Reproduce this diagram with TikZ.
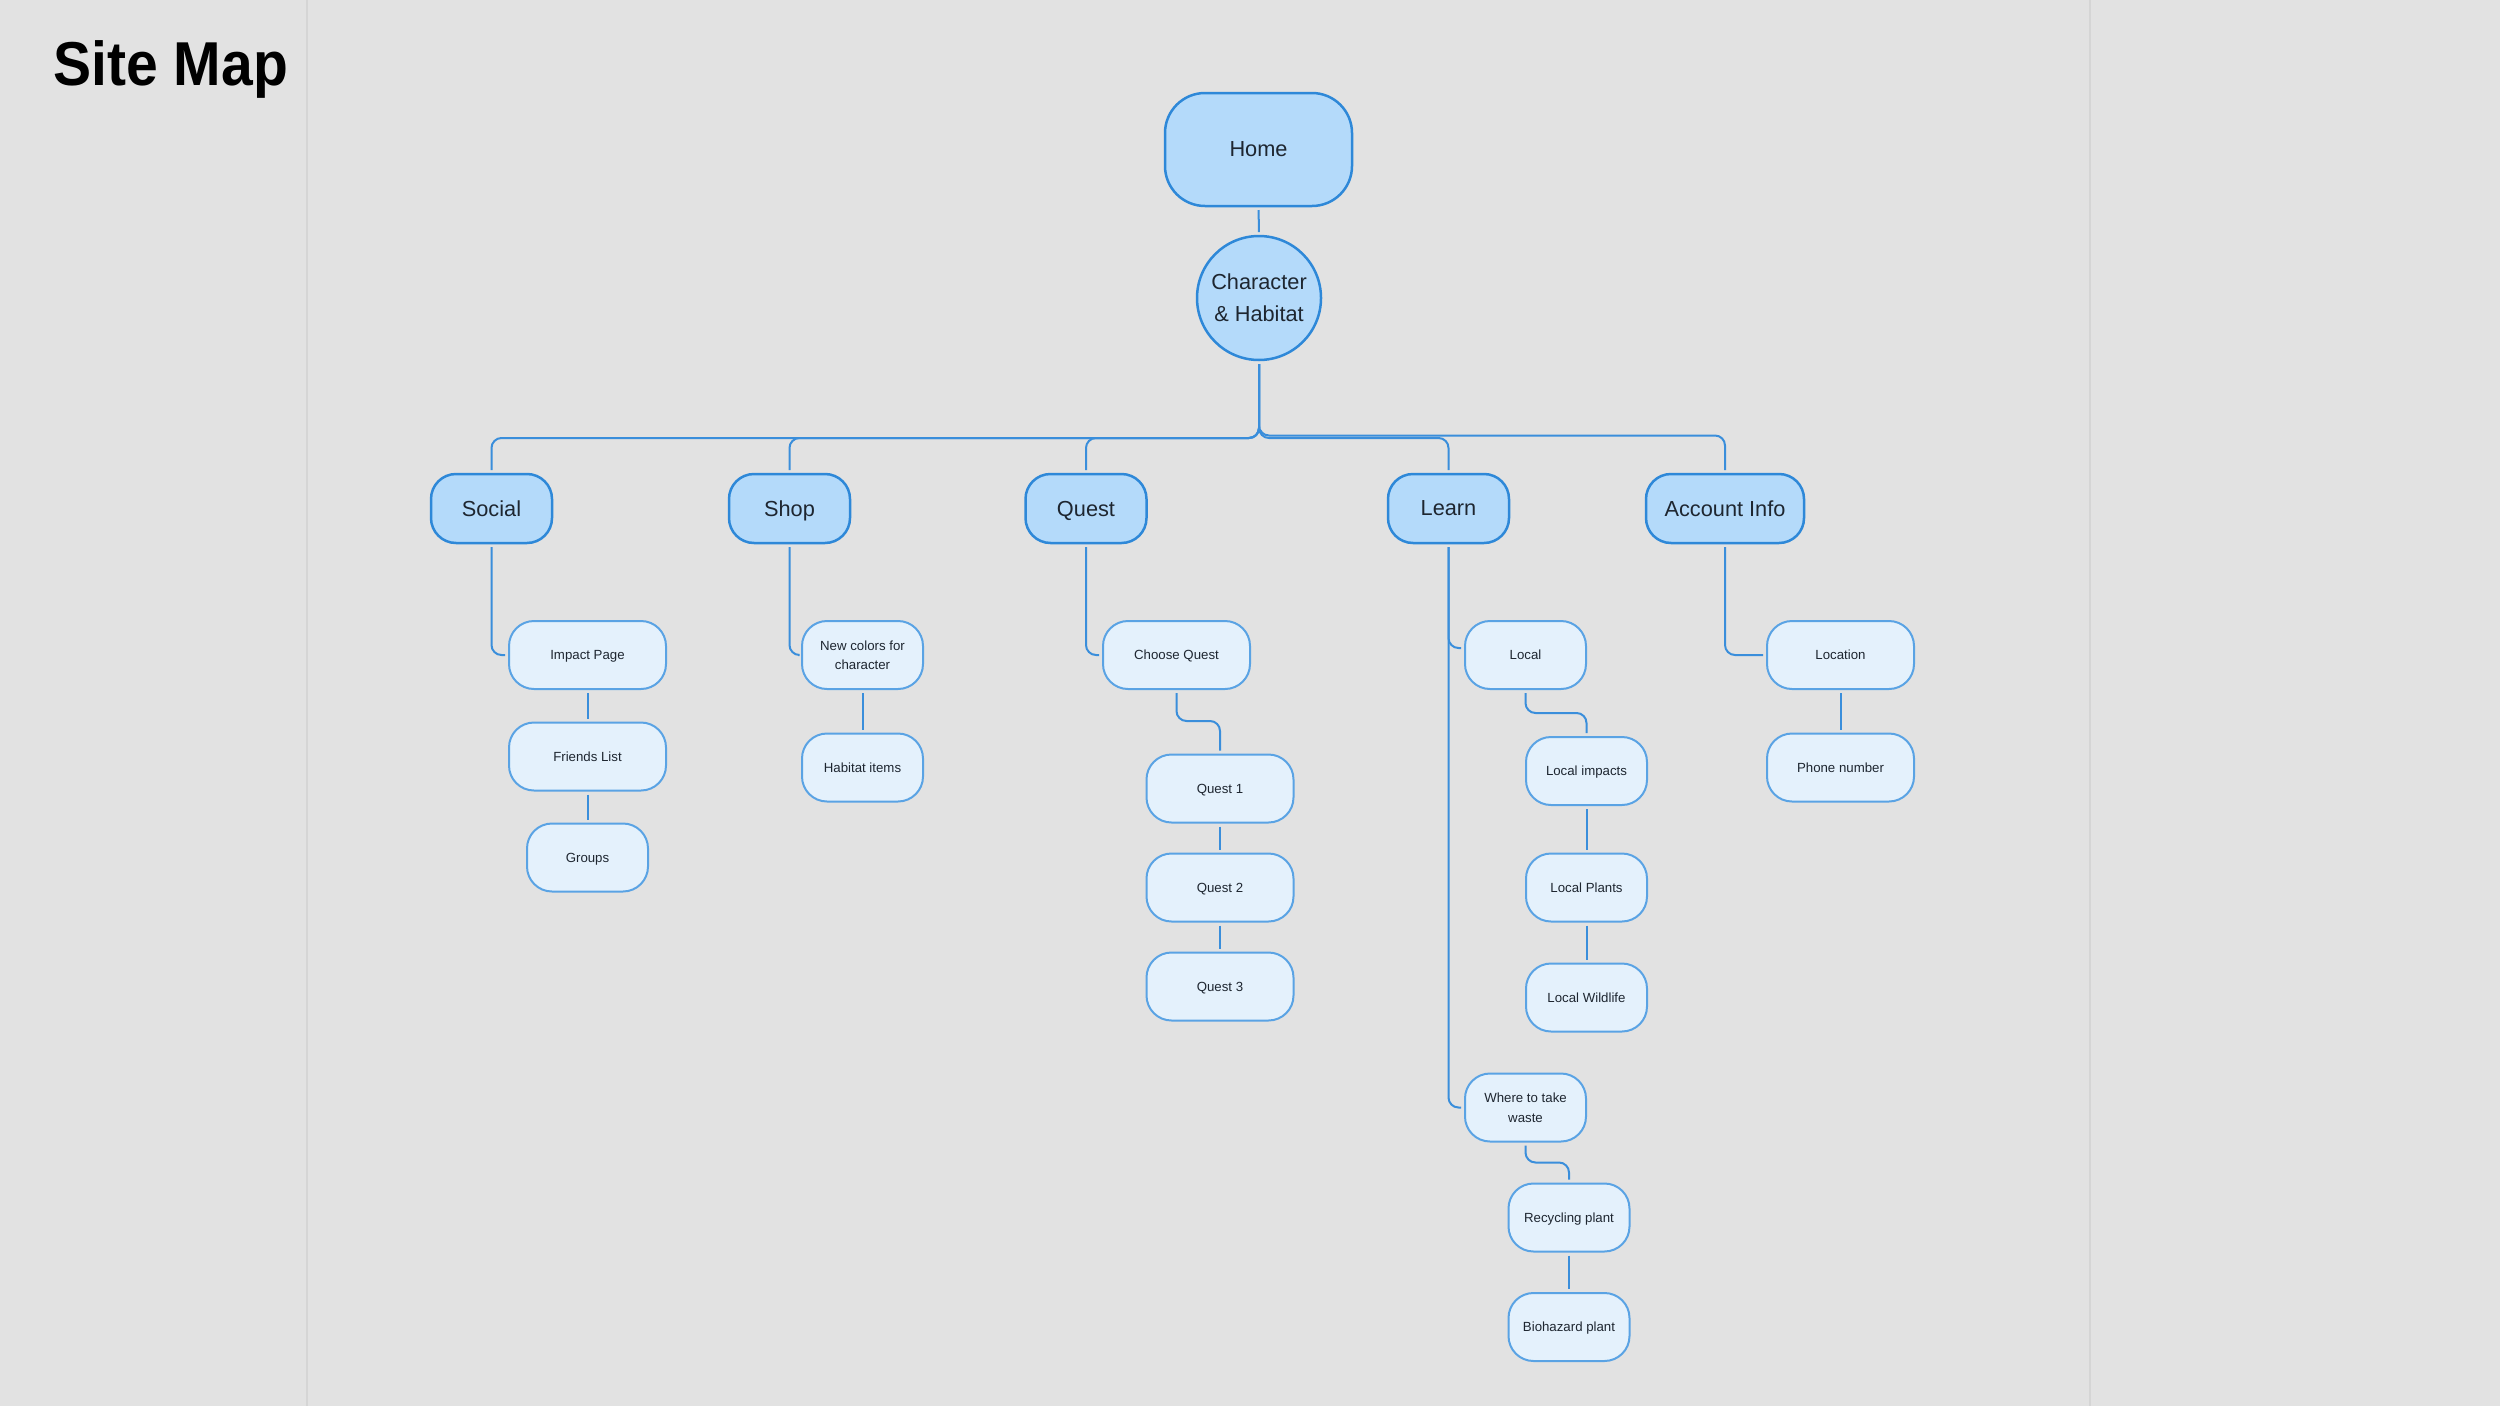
\documentclass[tikz,border=0pt]{standalone}
\usepackage{fontspec}
\usepackage{graphicx}
\setmainfont{Liberation Sans}
\newfontfamily\titlefont{Liberation Sans}
\definecolor{bgc}{HTML}{E2E2E2}
\definecolor{divc}{HTML}{D5D5D5}
\definecolor{bigfill}{HTML}{B4DAFA}
\definecolor{bigdraw}{HTML}{2E88D8}
\definecolor{smallfill}{HTML}{E4F1FC}
\definecolor{smalldraw}{HTML}{5AA3E4}
\definecolor{linec}{HTML}{3A8EDB}
\definecolor{txt}{HTML}{1E2630}
\begin{document}
\begin{tikzpicture}[x=0.4pt,y=-0.4pt,
  bignode/.style={draw=bigdraw,fill=bigfill,line width=1pt,rounded corners=10pt,
    minimum height=27.6pt,minimum width=48.4pt,inner sep=0pt,outer sep=1.6pt,
    text=txt,font=\fontsize{8.7pt}{12.8pt}\selectfont,align=center,text depth=0pt},
  smallnode/.style={draw=smalldraw,fill=smallfill,line width=0.8pt,rounded corners=10pt,
    minimum height=27.2pt,minimum width=48.4pt,inner sep=0pt,outer sep=1.6pt,
    text=txt,font=\fontsize{5.3pt}{7.8pt}\selectfont,align=center,text depth=0pt},
  conn/.style={draw=linec,line width=0.8pt,rounded corners=4pt}]
\fill[bgc] (0,0) rectangle (2500,1406);
\useasboundingbox (0,0) rectangle (2500,1406);
\draw[divc,line width=0.6pt] (307,0) -- (307,1406);
\draw[divc,line width=0.6pt] (2090,0) -- (2090,1406);

\node[anchor=base west,inner sep=0pt,text=black,font=\titlefont\bfseries\fontsize{24.8pt}{30pt}\selectfont]
  (title) at (53,85) {\scalebox{0.92}[1]{Site Map}};

% top
\node[bignode,minimum width=74.8pt,minimum height=45.2pt,rounded corners=16pt] (home) at (1258.5,149.5) {Home};
\node[bignode,circle,minimum size=49.6pt,rounded corners=0pt] (char) at (1259,298) {Character\\\& Habitat};

% level 1
\node[bignode] (social) at (491.5,508.5) {Social};
\node[bignode] (shop) at (789.5,508.5) {Shop};
\node[bignode] (quest) at (1086,508.5) {Quest};
\node[bignode] (learn) at (1448.5,508.5) {Learn};
\node[bignode,minimum width=63.2pt] (account) at (1725,508.5) {Account Info};

% social
\node[smallnode,minimum width=62.8pt] (impact) at (587.5,655) {Impact Page};
\node[smallnode,minimum width=62.8pt] (friends) at (587.5,756.5) {Friends List};
\node[smallnode] (groups) at (587.5,857.5) {Groups};
% shop
\node[smallnode] (newcol) at (862.5,655) {New colors for\\character};
\node[smallnode] (habitat) at (862.5,767.5) {Habitat items};
% quest
\node[smallnode,minimum width=58.8pt] (choose) at (1176.5,655) {Choose Quest};
\node[smallnode,minimum width=58.8pt] (q1) at (1220,788.5) {Quest 1};
\node[smallnode,minimum width=58.8pt] (q2) at (1220,887.5) {Quest 2};
\node[smallnode,minimum width=58.8pt] (q3) at (1220,986.5) {Quest 3};
% learn
\node[smallnode] (local) at (1525.5,655) {Local};
\node[smallnode] (impacts) at (1586.5,771) {Local impacts};
\node[smallnode] (plants) at (1586.5,887.5) {Local Plants};
\node[smallnode] (wildlife) at (1586.5,997.5) {Local Wildlife};
\node[smallnode] (waste) at (1525.5,1107.5) {Where to take\\waste};
\node[smallnode] (recyc) at (1569,1217.5) {Recycling plant};
\node[smallnode] (bio) at (1569,1327) {Biohazard plant};
% account
\node[smallnode,minimum width=58.8pt] (location) at (1840.5,655) {Location};
\node[smallnode,minimum width=58.8pt] (phone) at (1840.5,767.5) {Phone number};

% connectors
\draw[conn] (home) -- (char);
\coordinate (busL) at (1259,438);
\coordinate (busR) at (1259,435.5);
\draw[conn] (char.south) -- (busL) -| (social.north);
\draw[conn] (char.south) -- (busL) -| (shop.north);
\draw[conn] (char.south) -- (busL) -| (quest.north);
\draw[conn] (char.south) -- (busL) -| (learn.north);
\draw[conn] (char.south) -- (busR) -| (account.north);

\draw[conn] (social.south) |- (impact.west);
\draw[conn] (impact) -- (friends);
\draw[conn] (friends) -- (groups);

\draw[conn] (shop.south) |- (newcol.west);
\draw[conn] (newcol) -- (habitat);

\draw[conn] (quest.south) |- (choose.west);
\draw[conn] (choose.south) -- ++(0,28) -| (q1.north);
\draw[conn] (q1) -- (q2);
\draw[conn] (q2) -- (q3);

\draw[conn] (learn.south) |- ([yshift=2.8pt]local.west);
\draw[conn] (learn.south) |- (waste.west);
\draw[conn] (local.south) -- ++(0,20) -| (impacts.north);
\draw[conn] (impacts) -- (plants);
\draw[conn] (plants) -- (wildlife);
\draw[conn] (waste.south) -- ++(0,17) -| (recyc.north);
\draw[conn] (recyc) -- (bio);

\draw[conn] (account.south) |- (location.west);
\draw[conn] (location) -- (phone);
\end{tikzpicture}
\end{document}
